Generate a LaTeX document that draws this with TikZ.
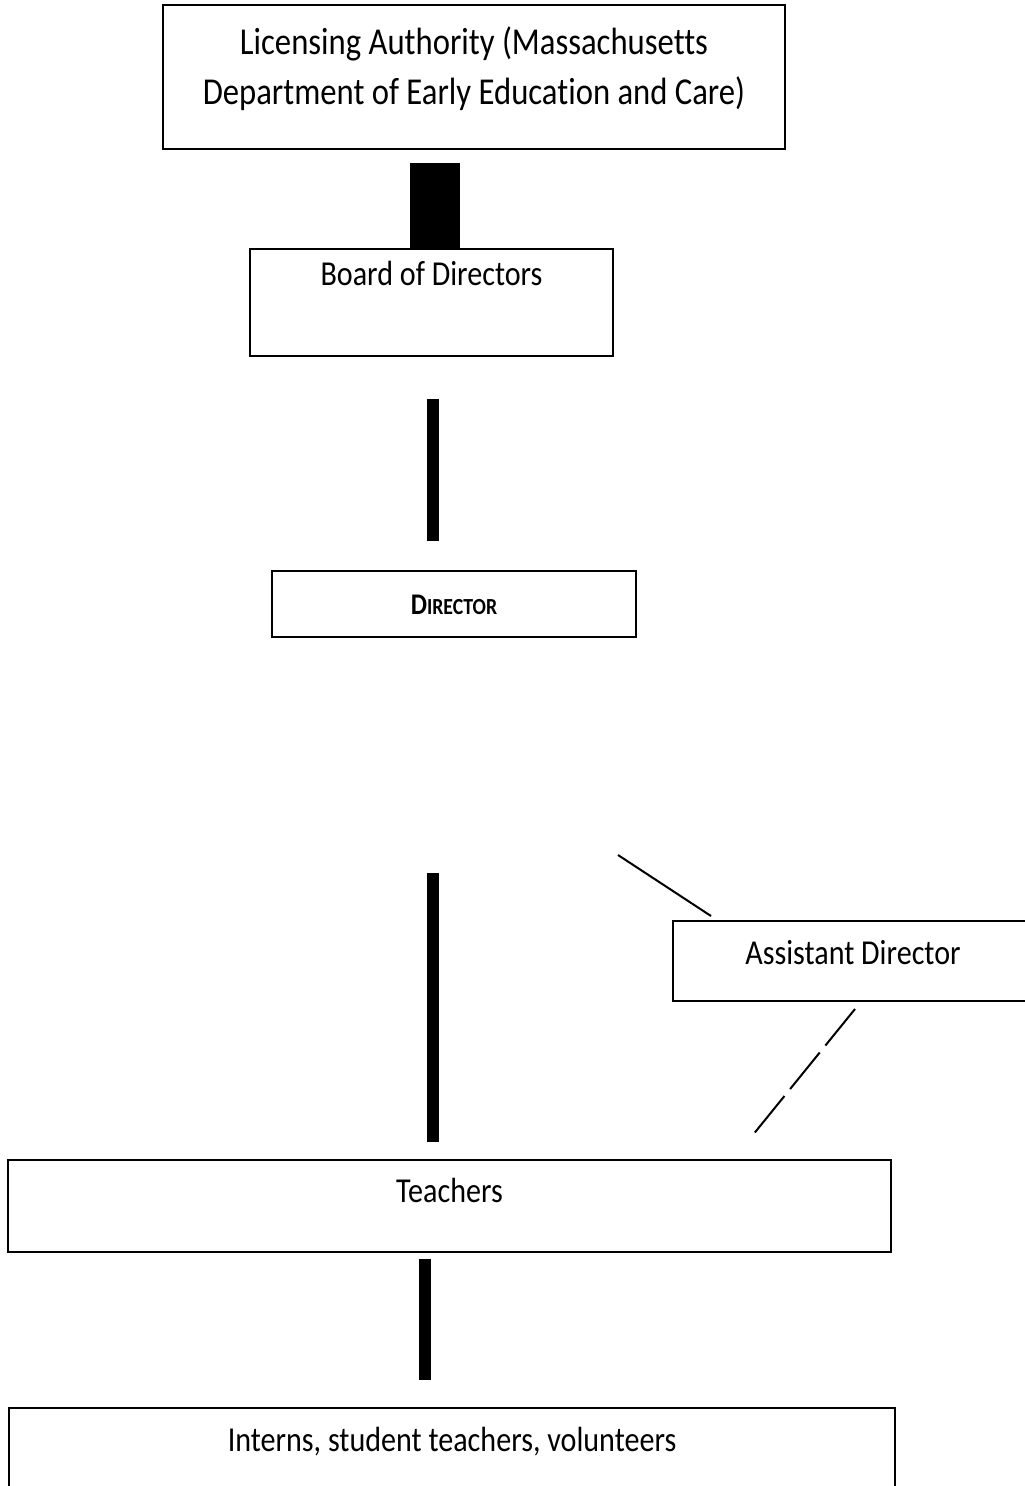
\documentclass[tikz,border=0pt]{standalone}
\usepackage{fontspec}
\setmainfont{Carlito}[Ligatures=NoCommon, FakeStretch=0.86]
\usetikzlibrary{positioning}
\tikzstyle{box} = [rectangle, draw=black, line width=2pt, inner sep=0pt, outer sep=0pt, align=center, font=\fontsize{35}{40}\selectfont]
\tikzstyle{bar} = [line width=12pt, line cap=butt]
\tikzstyle{link} = [line width=2pt]
\tikzstyle{dashlink} = [link, dash pattern=on 47pt off 9pt]

\begin{document}
\begin{tikzpicture}[x=1pt, y=1pt]
\useasboundingbox (0,-1486) rectangle (1025,0);

\node (LICENSING_AUTHORITY) [box, anchor=north, minimum width=622pt, text height=99pt, text depth=45pt,
  font=\fontsize{38}{50}\selectfont] at (474,-5)
  {Licensing Authority (Massachusetts\\Department of Early Education and Care)};
\node (BOARD) [box, below=100pt of LICENSING_AUTHORITY, xshift=-42.5pt, minimum width=363pt, text height=36pt, text depth=71pt] {Board of Directors};
\node (DIRECTOR) [box, below=215pt of BOARD, xshift=22.5pt, minimum width=364pt, text height=43pt, text depth=23pt]
  {\bfseries{\fontsize{30}{34}\selectfont D}{\fontsize{23}{26}\selectfont IRECTOR}};
\node (ASSISTANT_DIRECTOR) [box, below=284pt of DIRECTOR, xshift=399pt, minimum width=360pt, text height=43pt, text depth=37pt] {Assistant Director};
\node (TEACHERS) [box, below=523pt of DIRECTOR, xshift=-4.5pt, minimum width=883pt, text height=42pt, text depth=50pt] {Teachers};
\node (INTERNS) [box, below=156pt of TEACHERS, xshift=2.5pt, minimum width=886pt, text height=43pt, text depth=49pt] {Interns, student teachers, volunteers};

%\coordinate for the loose end of the thin line
\coordinate (DIRECTOR_LINK) at ([xshift=-18pt, yshift=-218pt]DIRECTOR.south east);

\draw [bar, line width=50pt, shorten <=14pt] ([xshift=3.5pt]LICENSING_AUTHORITY.south -| BOARD.north) -- ([xshift=3.5pt]BOARD.north);
\draw [bar, shorten <=43pt, shorten >=30pt] ([xshift=1.5pt]BOARD.south) -- ([xshift=1.5pt]BOARD.south |- DIRECTOR.north);
\draw [bar, shorten <=236pt, shorten >=18pt] ([xshift=-21pt]DIRECTOR.south) -- ([xshift=-21pt]DIRECTOR.south |- TEACHERS.north);
\draw [bar, shorten <=7pt, shorten >=28pt] ([xshift=-24.5pt]TEACHERS.south) -- ([xshift=-24.5pt]TEACHERS.south |- INTERNS.north);

\draw [link] (DIRECTOR_LINK) -- ([xshift=38pt, yshift=5pt]ASSISTANT_DIRECTOR.north west);
\draw [dashlink] ([xshift=2pt, yshift=-8pt]ASSISTANT_DIRECTOR.south) -- ([xshift=302.5pt, yshift=24pt]TEACHERS.north);

\end{tikzpicture}
\end{document}
